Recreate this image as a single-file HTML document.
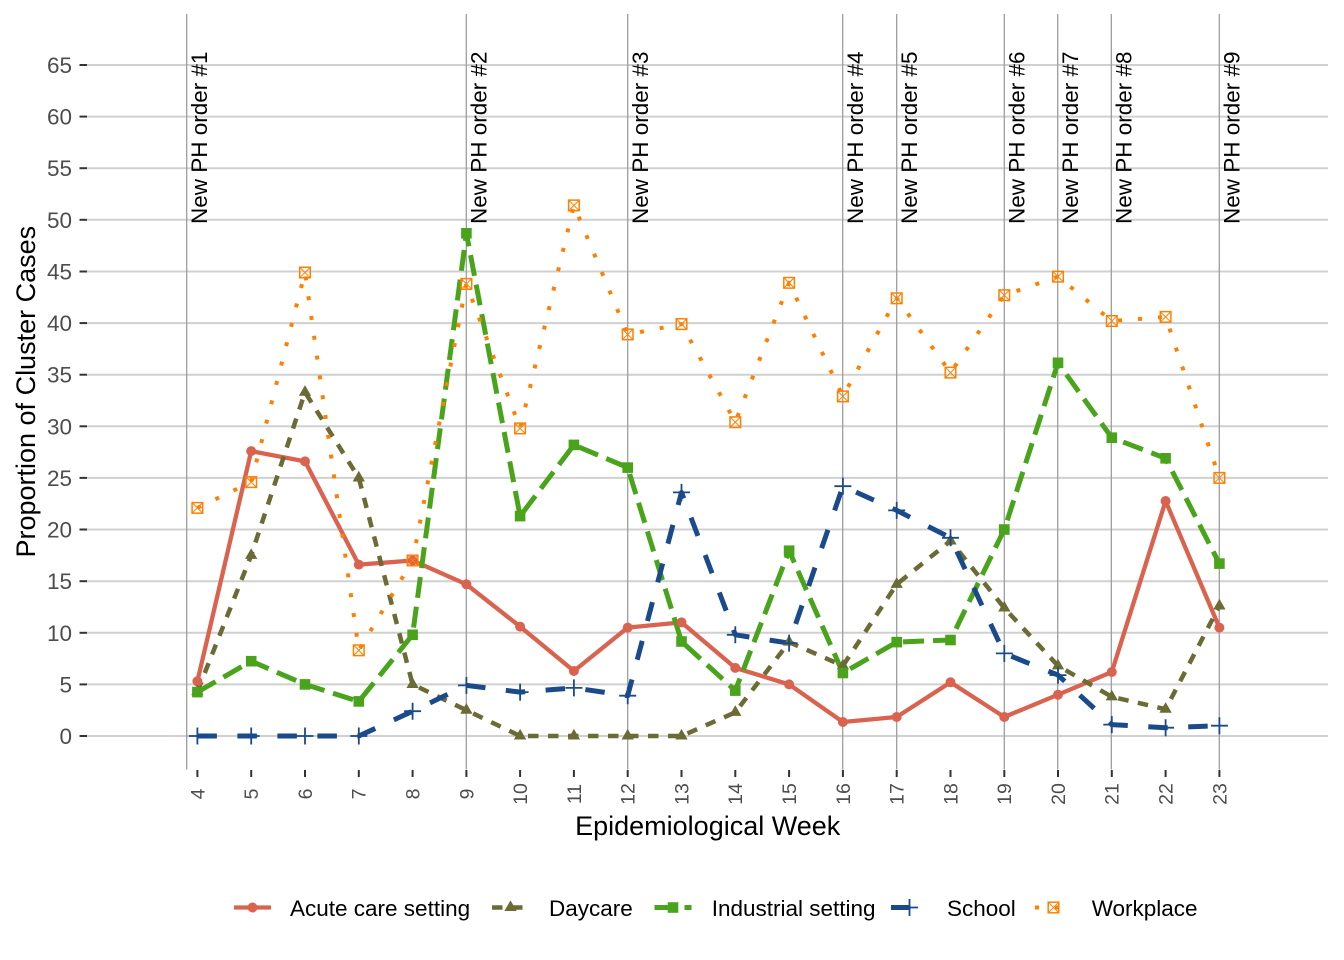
<!DOCTYPE html>
<html>
<head>
<meta charset="utf-8">
<style>
html,body{margin:0;padding:0;background:#fff;}
svg{display:block;}
text{font-family:"Liberation Sans",Arial,sans-serif;}
</style>
</head>
<body>
<svg width="1344" height="960" viewBox="0 0 1344 960" xmlns="http://www.w3.org/2000/svg">
<defs>
  <circle id="circ" r="5" fill="#d9634e"/>
  <path id="tri" d="M0,-7.1 L6.15,3.55 L-6.15,3.55Z" fill="#6b6b35"/>
  <rect id="sq" x="-5.3" y="-5.3" width="10.6" height="10.6" fill="#49a41c"/>
  <path id="plus" d="M-8.5,0H8.5M0,-8.5V8.5" stroke="#1a4a8a" stroke-width="1.8" fill="none"/>
  <g id="boxx" stroke="#ff8000" stroke-width="1.5" fill="none"><rect x="-5.3" y="-5.3" width="10.6" height="10.6"/><path d="M-5.3,-5.3L5.3,5.3M5.3,-5.3L-5.3,5.3" stroke-width="1"/></g>
</defs>
<rect width="1344" height="960" fill="#fff"/>

<!-- horizontal gridlines -->
<g stroke="#d0d0d0" stroke-width="2">
  <line x1="87" x2="1328" y1="736" y2="736"/>
  <line x1="87" x2="1328" y1="684.4" y2="684.4"/>
  <line x1="87" x2="1328" y1="632.8" y2="632.8"/>
  <line x1="87" x2="1328" y1="581.2" y2="581.2"/>
  <line x1="87" x2="1328" y1="529.5" y2="529.5"/>
  <line x1="87" x2="1328" y1="477.9" y2="477.9"/>
  <line x1="87" x2="1328" y1="426.3" y2="426.3"/>
  <line x1="87" x2="1328" y1="374.7" y2="374.7"/>
  <line x1="87" x2="1328" y1="323.1" y2="323.1"/>
  <line x1="87" x2="1328" y1="271.5" y2="271.5"/>
  <line x1="87" x2="1328" y1="219.8" y2="219.8"/>
  <line x1="87" x2="1328" y1="168.2" y2="168.2"/>
  <line x1="87" x2="1328" y1="116.6" y2="116.6"/>
  <line x1="87" x2="1328" y1="65" y2="65"/>
</g>

<!-- y ticks -->
<g stroke="#333" stroke-width="2">
  <line x1="79.5" x2="87" y1="736" y2="736"/>
  <line x1="79.5" x2="87" y1="684.4" y2="684.4"/>
  <line x1="79.5" x2="87" y1="632.8" y2="632.8"/>
  <line x1="79.5" x2="87" y1="581.2" y2="581.2"/>
  <line x1="79.5" x2="87" y1="529.5" y2="529.5"/>
  <line x1="79.5" x2="87" y1="477.9" y2="477.9"/>
  <line x1="79.5" x2="87" y1="426.3" y2="426.3"/>
  <line x1="79.5" x2="87" y1="374.7" y2="374.7"/>
  <line x1="79.5" x2="87" y1="323.1" y2="323.1"/>
  <line x1="79.5" x2="87" y1="271.5" y2="271.5"/>
  <line x1="79.5" x2="87" y1="219.8" y2="219.8"/>
  <line x1="79.5" x2="87" y1="168.2" y2="168.2"/>
  <line x1="79.5" x2="87" y1="116.6" y2="116.6"/>
  <line x1="79.5" x2="87" y1="65" y2="65"/>
</g>
<g font-size="22.5" fill="#4d4d4d" text-anchor="end">
  <text x="72" y="744">0</text>
  <text x="72" y="692.4">5</text>
  <text x="72" y="640.8">10</text>
  <text x="72" y="589.2">15</text>
  <text x="72" y="537.5">20</text>
  <text x="72" y="485.9">25</text>
  <text x="72" y="434.3">30</text>
  <text x="72" y="382.7">35</text>
  <text x="72" y="331.1">40</text>
  <text x="72" y="279.5">45</text>
  <text x="72" y="227.8">50</text>
  <text x="72" y="176.2">55</text>
  <text x="72" y="124.6">60</text>
  <text x="72" y="73">65</text>
</g>

<!-- x ticks -->
<g stroke="#333" stroke-width="2">
  <line x1="197.4" x2="197.4" y1="770" y2="777"/>
  <line x1="251.2" x2="251.2" y1="770" y2="777"/>
  <line x1="305.0" x2="305.0" y1="770" y2="777"/>
  <line x1="358.8" x2="358.8" y1="770" y2="777"/>
  <line x1="412.6" x2="412.6" y1="770" y2="777"/>
  <line x1="466.4" x2="466.4" y1="770" y2="777"/>
  <line x1="520.1" x2="520.1" y1="770" y2="777"/>
  <line x1="573.9" x2="573.9" y1="770" y2="777"/>
  <line x1="627.7" x2="627.7" y1="770" y2="777"/>
  <line x1="681.5" x2="681.5" y1="770" y2="777"/>
  <line x1="735.3" x2="735.3" y1="770" y2="777"/>
  <line x1="789.1" x2="789.1" y1="770" y2="777"/>
  <line x1="842.9" x2="842.9" y1="770" y2="777"/>
  <line x1="896.7" x2="896.7" y1="770" y2="777"/>
  <line x1="950.5" x2="950.5" y1="770" y2="777"/>
  <line x1="1004.3" x2="1004.3" y1="770" y2="777"/>
  <line x1="1058.0" x2="1058.0" y1="770" y2="777"/>
  <line x1="1111.8" x2="1111.8" y1="770" y2="777"/>
  <line x1="1165.6" x2="1165.6" y1="770" y2="777"/>
  <line x1="1219.4" x2="1219.4" y1="770" y2="777"/>
</g>
<g font-size="19.5" fill="#4d4d4d" text-anchor="middle">
  <text transform="translate(204.3,794) rotate(-90)">4</text>
  <text transform="translate(258.1,794) rotate(-90)">5</text>
  <text transform="translate(311.9,794) rotate(-90)">6</text>
  <text transform="translate(365.7,794) rotate(-90)">7</text>
  <text transform="translate(419.5,794) rotate(-90)">8</text>
  <text transform="translate(473.3,794) rotate(-90)">9</text>
  <text transform="translate(527,794) rotate(-90)">10</text>
  <text transform="translate(580.8,794) rotate(-90)">11</text>
  <text transform="translate(634.6,794) rotate(-90)">12</text>
  <text transform="translate(688.4,794) rotate(-90)">13</text>
  <text transform="translate(742.2,794) rotate(-90)">14</text>
  <text transform="translate(796,794) rotate(-90)">15</text>
  <text transform="translate(849.8,794) rotate(-90)">16</text>
  <text transform="translate(903.6,794) rotate(-90)">17</text>
  <text transform="translate(957.4,794) rotate(-90)">18</text>
  <text transform="translate(1011.2,794) rotate(-90)">19</text>
  <text transform="translate(1064.9,794) rotate(-90)">20</text>
  <text transform="translate(1118.7,794) rotate(-90)">21</text>
  <text transform="translate(1172.5,794) rotate(-90)">22</text>
  <text transform="translate(1226.3,794) rotate(-90)">23</text>
</g>

<!-- PH order vertical lines -->
<g stroke="#9e9e9e" stroke-width="1.3">
  <line x1="186.7" x2="186.7" y1="14" y2="769.5"/>
  <line x1="466.3" x2="466.3" y1="14" y2="769.5"/>
  <line x1="627.7" x2="627.7" y1="14" y2="769.5"/>
  <line x1="842.7" x2="842.7" y1="14" y2="769.5"/>
  <line x1="896.7" x2="896.7" y1="14" y2="769.5"/>
  <line x1="1004.3" x2="1004.3" y1="14" y2="769.5"/>
  <line x1="1057.7" x2="1057.7" y1="14" y2="769.5"/>
  <line x1="1111.3" x2="1111.3" y1="14" y2="769.5"/>
  <line x1="1219.3" x2="1219.3" y1="14" y2="769.5"/>
</g>
<g font-size="22.5" fill="#000">
  <text transform="translate(207,224) rotate(-90)">New PH order #1</text>
  <text transform="translate(486.6,224) rotate(-90)">New PH order #2</text>
  <text transform="translate(648,224) rotate(-90)">New PH order #3</text>
  <text transform="translate(863,224) rotate(-90)">New PH order #4</text>
  <text transform="translate(917,224) rotate(-90)">New PH order #5</text>
  <text transform="translate(1024.6,224) rotate(-90)">New PH order #6</text>
  <text transform="translate(1078,224) rotate(-90)">New PH order #7</text>
  <text transform="translate(1131.6,224) rotate(-90)">New PH order #8</text>
  <text transform="translate(1239.6,224) rotate(-90)">New PH order #9</text>
</g>

<!-- series lines -->
<g fill="none" stroke-linejoin="round" stroke-linecap="butt">
  <polyline stroke="#d9634e" stroke-width="4.3" points="197.4,681.3 251.2,451.1 305.0,461.4 358.8,564.6 412.6,560.5 466.4,584.3 520.1,626.6 573.9,671.0 627.7,627.6 681.5,622.4 735.3,667.9 789.1,684.4 842.9,722.0 896.7,717.0 950.5,682.3 1004.3,717.0 1058.0,694.7 1111.8,672.0 1165.6,501.0 1219.4,627.6"/>
  <polyline stroke="#6b6b35" stroke-width="4.5" stroke-dasharray="10.5 9.5" points="197.4,691.6 251.2,555.3 305.0,392.2 358.8,477.9 412.6,684.4 466.4,710.2 520.1,736 573.9,736 627.7,736 681.5,736 735.3,712.3 789.1,642.1 842.9,665.8 896.7,584.3 950.5,540.9 1004.3,608.0 1058.0,665.8 1111.8,696.8 1165.6,709.2 1219.4,605.9"/>
  <polyline stroke="#49a41c" stroke-width="5" stroke-dasharray="21 9" points="197.4,692.1 251.2,661.2 305.0,684.4 358.8,701.4 412.6,634.8 466.4,233.3 520.1,516.1 573.9,444.9 627.7,467.6 681.5,641.5 735.3,690.6 789.1,550.7 842.9,673.0 896.7,642.1 950.5,640.0 1004.3,529.5 1058.0,362.8 1111.8,437.7 1165.6,458.3 1219.4,563.6"/>
  <polyline stroke="#1a4a8a" stroke-width="5" stroke-dasharray="19.5 20.5" points="197.4,736 251.2,736 305.0,736 358.8,736 412.6,711.2 466.4,685.4 520.1,692.1 573.9,687.9 627.7,695.7 681.5,492.4 735.3,634.8 789.1,643.1 842.9,486.2 896.7,510.4 950.5,537.8 1004.3,653.4 1058.0,675.1 1111.8,724.6 1165.6,727.7 1219.4,725.7"/>
  <polyline stroke="#ff8000" stroke-width="4" stroke-dasharray="4 16" points="197.4,507.9 251.2,482.1 305.0,272.5 358.8,650.3 412.6,560.5 466.4,283.9 520.1,428.4 573.9,205.4 627.7,334.4 681.5,324.1 735.3,422.2 789.1,282.8 842.9,396.4 896.7,298.3 950.5,372.6 1004.3,295.2 1058.0,276.6 1111.8,321.0 1165.6,316.9 1219.4,477.9"/>
</g>

<!-- points: acute -->
<use href="#circ" x="197.4" y="681.3"/><use href="#circ" x="251.2" y="451.1"/><use href="#circ" x="305.0" y="461.4"/><use href="#circ" x="358.8" y="564.6"/><use href="#circ" x="412.6" y="560.5"/><use href="#circ" x="466.4" y="584.3"/><use href="#circ" x="520.1" y="626.6"/><use href="#circ" x="573.9" y="671.0"/><use href="#circ" x="627.7" y="627.6"/><use href="#circ" x="681.5" y="622.4"/><use href="#circ" x="735.3" y="667.9"/><use href="#circ" x="789.1" y="684.4"/><use href="#circ" x="842.9" y="722.0"/><use href="#circ" x="896.7" y="717.0"/><use href="#circ" x="950.5" y="682.3"/><use href="#circ" x="1004.3" y="717.0"/><use href="#circ" x="1058.0" y="694.7"/><use href="#circ" x="1111.8" y="672.0"/><use href="#circ" x="1165.6" y="501.0"/><use href="#circ" x="1219.4" y="627.6"/>
<!-- daycare -->
<use href="#tri" x="197.4" y="691.6"/><use href="#tri" x="251.2" y="555.3"/><use href="#tri" x="305.0" y="392.2"/><use href="#tri" x="358.8" y="477.9"/><use href="#tri" x="412.6" y="684.4"/><use href="#tri" x="466.4" y="710.2"/><use href="#tri" x="520.1" y="736"/><use href="#tri" x="573.9" y="736"/><use href="#tri" x="627.7" y="736"/><use href="#tri" x="681.5" y="736"/><use href="#tri" x="735.3" y="712.3"/><use href="#tri" x="789.1" y="642.1"/><use href="#tri" x="842.9" y="665.8"/><use href="#tri" x="896.7" y="584.3"/><use href="#tri" x="950.5" y="540.9"/><use href="#tri" x="1004.3" y="608.0"/><use href="#tri" x="1058.0" y="665.8"/><use href="#tri" x="1111.8" y="696.8"/><use href="#tri" x="1165.6" y="709.2"/><use href="#tri" x="1219.4" y="605.9"/>
<!-- industrial -->
<use href="#sq" x="197.4" y="692.1"/><use href="#sq" x="251.2" y="661.2"/><use href="#sq" x="305.0" y="684.4"/><use href="#sq" x="358.8" y="701.4"/><use href="#sq" x="412.6" y="634.8"/><use href="#sq" x="466.4" y="233.3"/><use href="#sq" x="520.1" y="516.1"/><use href="#sq" x="573.9" y="444.9"/><use href="#sq" x="627.7" y="467.6"/><use href="#sq" x="681.5" y="641.5"/><use href="#sq" x="735.3" y="690.6"/><use href="#sq" x="789.1" y="550.7"/><use href="#sq" x="842.9" y="673.0"/><use href="#sq" x="896.7" y="642.1"/><use href="#sq" x="950.5" y="640.0"/><use href="#sq" x="1004.3" y="529.5"/><use href="#sq" x="1058.0" y="362.8"/><use href="#sq" x="1111.8" y="437.7"/><use href="#sq" x="1165.6" y="458.3"/><use href="#sq" x="1219.4" y="563.6"/>
<!-- school -->
<use href="#plus" x="197.4" y="736"/><use href="#plus" x="251.2" y="736"/><use href="#plus" x="305.0" y="736"/><use href="#plus" x="358.8" y="736"/><use href="#plus" x="412.6" y="711.2"/><use href="#plus" x="466.4" y="685.4"/><use href="#plus" x="520.1" y="692.1"/><use href="#plus" x="573.9" y="687.9"/><use href="#plus" x="627.7" y="695.7"/><use href="#plus" x="681.5" y="492.4"/><use href="#plus" x="735.3" y="634.8"/><use href="#plus" x="789.1" y="643.1"/><use href="#plus" x="842.9" y="486.2"/><use href="#plus" x="896.7" y="510.4"/><use href="#plus" x="950.5" y="537.8"/><use href="#plus" x="1004.3" y="653.4"/><use href="#plus" x="1058.0" y="675.1"/><use href="#plus" x="1111.8" y="724.6"/><use href="#plus" x="1165.6" y="727.7"/><use href="#plus" x="1219.4" y="725.7"/>
<!-- workplace -->
<use href="#boxx" x="197.4" y="507.9"/><use href="#boxx" x="251.2" y="482.1"/><use href="#boxx" x="305.0" y="272.5"/><use href="#boxx" x="358.8" y="650.3"/><use href="#boxx" x="412.6" y="560.5"/><use href="#boxx" x="466.4" y="283.9"/><use href="#boxx" x="520.1" y="428.4"/><use href="#boxx" x="573.9" y="205.4"/><use href="#boxx" x="627.7" y="334.4"/><use href="#boxx" x="681.5" y="324.1"/><use href="#boxx" x="735.3" y="422.2"/><use href="#boxx" x="789.1" y="282.8"/><use href="#boxx" x="842.9" y="396.4"/><use href="#boxx" x="896.7" y="298.3"/><use href="#boxx" x="950.5" y="372.6"/><use href="#boxx" x="1004.3" y="295.2"/><use href="#boxx" x="1058.0" y="276.6"/><use href="#boxx" x="1111.8" y="321.0"/><use href="#boxx" x="1165.6" y="316.9"/><use href="#boxx" x="1219.4" y="477.9"/>

<!-- axis titles -->
<text x="707.7" y="835" font-size="27" text-anchor="middle" fill="#000">Epidemiological Week</text>
<text transform="translate(35,391.7) rotate(-90)" font-size="27" text-anchor="middle" fill="#000">Proportion of Cluster Cases</text>

<!-- legend -->
<g fill="none" stroke-linecap="butt">
  <line x1="234" x2="271" y1="907.5" y2="907.5" stroke="#d9634e" stroke-width="4.3"/>
  <line x1="492" x2="529" y1="907.5" y2="907.5" stroke="#6b6b35" stroke-width="4.5" stroke-dasharray="10.5 9.5"/>
  <line x1="654.5" x2="691.5" y1="907.5" y2="907.5" stroke="#49a41c" stroke-width="5" stroke-dasharray="21 9"/>
  <line x1="891" x2="928" y1="907.5" y2="907.5" stroke="#1a4a8a" stroke-width="5" stroke-dasharray="19.5 20.5"/>
  <line x1="1035" x2="1072" y1="907.5" y2="907.5" stroke="#ff8000" stroke-width="4" stroke-dasharray="4 16"/>
</g>
<use href="#circ" x="252.5" y="907.5"/>
<use href="#tri" x="510.5" y="907.5"/>
<use href="#sq" x="673" y="907.5"/>
<use href="#plus" x="909.5" y="907.5"/>
<use href="#boxx" x="1053.5" y="907.5"/>
<g font-size="22.5" fill="#000">
  <text x="290" y="916">Acute care setting</text>
  <text x="549" y="916">Daycare</text>
  <text x="711.7" y="916">Industrial setting</text>
  <text x="947" y="916">School</text>
  <text x="1091.7" y="916">Workplace</text>
</g>
</svg>
</body>
</html>
